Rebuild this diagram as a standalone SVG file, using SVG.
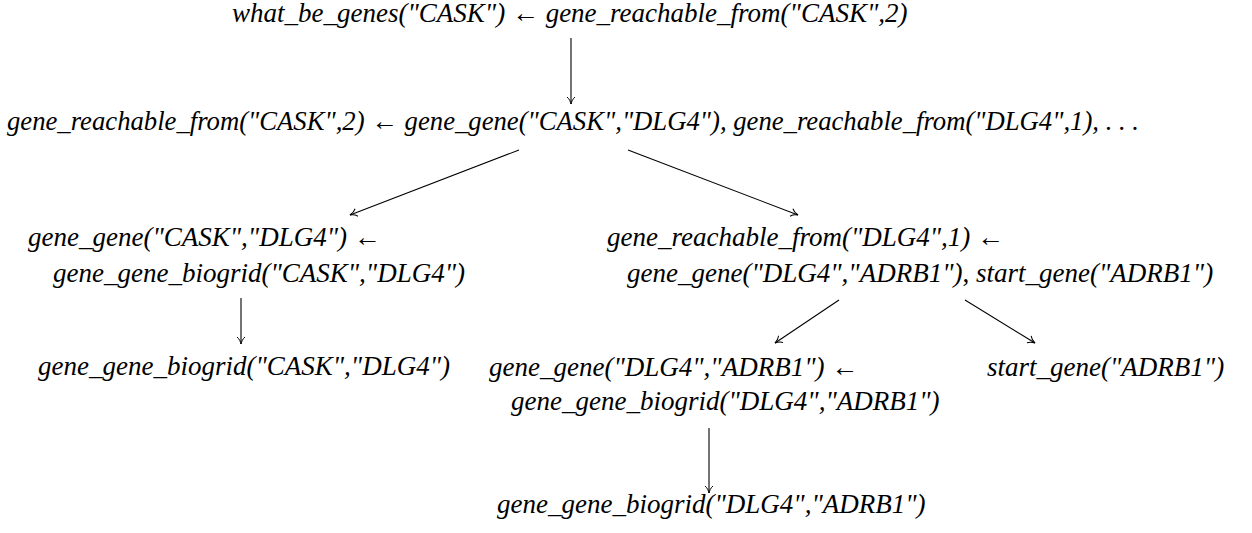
<svg xmlns="http://www.w3.org/2000/svg" width="1252" height="533" viewBox="0 0 1252 533">
<style>
text{font-family:"Liberation Serif","DejaVu Serif",serif;font-style:italic;font-size:27px;fill:#000}
.up{font-style:normal}
.edge{stroke:#000;stroke-width:1.1;fill:none;marker-end:url(#to)}
</style>
<defs>
<marker id="to" markerUnits="userSpaceOnUse" markerWidth="20" markerHeight="20" refX="0" refY="0" orient="auto" overflow="visible">
<path d="M-7,-4 C-5,-1.5 -2,-0.5 0,0 C-2,0.5 -5,1.5 -7,4" fill="none" stroke="#000" stroke-width="1"/>
</marker>
</defs>
<rect width="1252" height="533" fill="#fff"/>
<g id="n1"><text x="232" y="22">what_be_genes("CASK") <tspan class="up">←</tspan> gene_reachable_from("CASK",2)</text></g>
<g id="n2"><text x="7" y="130" textLength="1132" lengthAdjust="spacingAndGlyphs">gene_reachable_from("CASK",2) ← gene_gene("CASK","DLG4"), gene_reachable_from("DLG4",1), . . .</text></g>
<g id="n3"><text x="28" y="246">gene_gene("CASK","DLG4") <tspan class="up">←</tspan></text><text x="53" y="282">gene_gene_biogrid("CASK","DLG4")</text></g>
<g id="n4"><text x="607" y="246">gene_reachable_from("DLG4",1) <tspan class="up">←</tspan></text><text x="627" y="282">gene_gene("DLG4","ADRB1")<tspan class="up">,</tspan> start_gene("ADRB1")</text></g>
<g id="n5"><text x="38" y="375">gene_gene_biogrid("CASK","DLG4")</text></g>
<g id="n6"><text x="489" y="376">gene_gene("DLG4","ADRB1") <tspan class="up">←</tspan></text><text x="511" y="410">gene_gene_biogrid("DLG4","ADRB1")</text></g>
<g id="n7"><text x="987" y="376">start_gene("ADRB1")</text></g>
<g id="n8"><text x="497" y="513">gene_gene_biogrid("DLG4","ADRB1")</text></g>
<g id="edges">
<line class="edge" x1="571" y1="38" x2="571" y2="104"/>
<line class="edge" x1="519" y1="150" x2="350" y2="215"/>
<line class="edge" x1="628" y1="150" x2="798" y2="215"/>
<line class="edge" x1="241" y1="298" x2="241" y2="344"/>
<line class="edge" x1="839" y1="300" x2="775" y2="343"/>
<line class="edge" x1="965" y1="300" x2="1035" y2="343"/>
<line class="edge" x1="709" y1="428" x2="709" y2="493"/>
</g>
</svg>
